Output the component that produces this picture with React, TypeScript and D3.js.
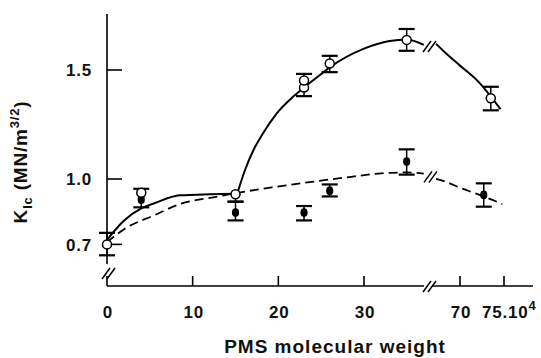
import React from 'react'
import * as d3 from 'd3'

// PMS molecular weight (x 10^4) vs K_Ic
const openX = [0, 4, 15, 23, 23, 26, 35, 73.5]
const openY = [0.7, 0.937, 0.93, 1.42, 1.452, 1.53, 1.638, 1.37]
const openLo = [0.05, 0, 0.034, 0.04, 0, 0.04, 0.05, 0.055]
const openHi = [0.053, 0.018, 0, 0, 0.03, 0.035, 0.05, 0.053]

const filledX = [0, 4, 15, 23, 26, 35, 72.7]
const filledY = [0.7, 0.905, 0.846, 0.846, 0.946, 1.08, 0.927]
const filledLo = [0, 0.035, 0.036, 0.036, 0.026, 0.06, 0.054]
const filledHi = [0, 0, 0.05, 0.03, 0.029, 0.056, 0.053]

// fitted curves, split at the axis break
const solidLowX = [0, 0.5, 2, 4, 5.6, 8.5, 12, 15.2]
const solidLowY = [0.72, 0.745, 0.81, 0.865, 0.89, 0.925, 0.93, 0.932]
const solidUpX = [15.2, 16.1, 17.1, 18.25, 19.8, 21.75, 23, 24.85, 26, 30, 33, 35, 37]
const solidUpY = [0.932, 1.04, 1.133, 1.212, 1.3, 1.378, 1.42, 1.477, 1.512, 1.598, 1.633, 1.64, 1.615]
const solidRightX = [67, 68, 70, 72, 74.6]
const solidRightY = [1.62, 1.585, 1.52, 1.45, 1.32]

const dashLeftX = [0, 2, 5.6, 8.5, 13, 15, 19, 22.6, 28.5, 32, 35, 37]
const dashLeftY = [0.71, 0.77, 0.835, 0.885, 0.92, 0.935, 0.96, 0.98, 1.01, 1.026, 1.03, 1.025]
const dashRightX = [67, 68, 70, 71, 73, 74.8]
const dashRightY = [1.0, 0.99, 0.96, 0.945, 0.915, 0.885]

const xTicks = [10, 20, 30, 70, 75]
const xTickLabels = ['0', '10', '20', '30', '70']
const yTicks = [0.7, 1.0, 1.5]

const W = 541
const H = 358
const font = '"Liberation Sans", Arial, Helvetica, sans-serif'

export default function App() {
  const x = d3.scaleLinear().domain([0, 30, 37.5, 66.5, 70, 75]).range([107, 364, 428, 432, 460, 504])
  const y = d3.scaleLinear().domain([0.5, 1.76]).range([288, 13.3])

  const x0 = x(0)
  const yBase = 286
  const yTop = 14
  const xEnd = 533
  const brkX = x(52)

  const line = d3
    .line<[number, number]>()
    .x((d) => x(d[0]))
    .y((d) => y(d[1]))
    .curve(d3.curveMonotoneX)

  const zip = (a: number[], b: number[]) => a.map((v, i) => [v, b[i]] as [number, number])

  // "//" break mark centred at (cx, cy)
  const breakMark = (cx: number, cy: number, key: string) => (
    <g key={key} stroke="#000" strokeWidth={1.5}>
      <line x1={cx - 7} y1={cy + 6} x2={cx + 1} y2={cy - 5} />
      <line x1={cx - 2} y1={cy + 6} x2={cx + 6} y2={cy - 5} />
    </g>
  )

  const errBar = (xv: number, yv: number, lo: number, hi: number, key: string) => {
    const cx = x(xv)
    const top = y(yv + hi)
    const bot = y(yv - lo)
    return (
      <g key={key} stroke="#000">
        <line x1={cx} x2={cx} y1={top} y2={bot} strokeWidth={1.5} />
        {hi > 0 && <line x1={cx - 8} x2={cx + 8} y1={top} y2={top} strokeWidth={2.2} />}
        {lo > 0 && <line x1={cx - 8} x2={cx + 8} y1={bot} y2={bot} strokeWidth={2.2} />}
      </g>
    )
  }

  return (
    <svg width={W} height={H} style={{ position: 'absolute', left: 0, top: 0, background: '#fff' }} fontFamily={font}>
      {/* axes */}
      <g stroke="#000" strokeWidth={1.6} fill="none">
        <line x1={x0} x2={x0} y1={yTop} y2={yBase} />
        <line x1={x0} x2={xEnd} y1={yBase} y2={yBase} />
        {yTicks.map((t) => (
          <line key={'yt' + t} x1={x0} x2={x0 + 15} y1={y(t)} y2={y(t)} />
        ))}
        {xTicks.map((t) => (
          <line key={'xt' + t} x1={x(t)} x2={x(t)} y1={yBase} y2={yBase - 10} />
        ))}
      </g>
      <rect x={brkX - 6} y={yBase - 2} width={8} height={4} fill="#fff" />
      {breakMark(brkX, yBase, 'bx')}
      <rect x={x0 - 2} y={264} width={4} height={12} fill="#fff" />
      {breakMark(x0 + 2, 273, 'by')}

      {/* tick labels */}
      <g fontSize={17} fontWeight="bold" fill="#111" letterSpacing={0.8}>
        {yTicks.map((t) => (
          <text key={'yl' + t} x={92} y={y(t)} dy="0.36em" textAnchor="end">
            {t.toFixed(1)}
          </text>
        ))}
        {[0, 10, 20, 30, 70].map((t, i) => (
          <text key={'xl' + t} x={x(t) + 1} y={318} textAnchor="middle">
            {xTickLabels[i]}
          </text>
        ))}
        <text x={482} y={318}>
          75.10<tspan fontSize={13} dy={-8}>4</tspan>
        </text>
      </g>

      {/* axis titles */}
      <text x={335} y={353} textAnchor="middle" fontSize={19} fontWeight="bold" fill="#111" letterSpacing={1}>
        PMS molecular weight
      </text>
      <text
        transform="translate(27,162) rotate(-90)"
        textAnchor="middle"
        fontSize={19}
        fontWeight="bold"
        fill="#111"
        letterSpacing={0.8}
      >
        K<tspan fontSize={13} dy={5}>Ic</tspan>
        <tspan dy={-5}> (MN/m</tspan>
        <tspan fontSize={13} dy={-8}>3/2</tspan>
        <tspan dy={8}>)</tspan>
      </text>

      {/* curves */}
      <g fill="none" stroke="#000" strokeWidth={2}>
        <path d={line(zip(solidLowX, solidLowY)) || ''} />
        <path d={line(zip(solidUpX, solidUpY)) || ''} />
        <path d={line(zip(solidRightX, solidRightY)) || ''} />
        <path d={line(zip(dashLeftX, dashLeftY)) || ''} strokeDasharray="9,5" strokeWidth={1.8} />
        <path d={line(zip(dashRightX, dashRightY)) || ''} strokeDasharray="9,5" strokeWidth={1.8} />
      </g>
      {breakMark(brkX, y(1.61), 'bs')}
      {breakMark(brkX + 1, y(1.012), 'bd')}

      {/* error bars */}
      {filledX.map((v, i) => errBar(v, filledY[i], filledLo[i], filledHi[i], 'fe' + i))}
      {openX.map((v, i) => errBar(v, openY[i], openLo[i], openHi[i], 'oe' + i))}

      {/* markers */}
      {filledX.map((v, i) => (
        <ellipse key={'fm' + i} cx={x(v)} cy={y(filledY[i])} rx={3.6} ry={4.4} fill="#000" />
      ))}
      {openX.map((v, i) => (
        <circle key={'om' + i} cx={x(v)} cy={y(openY[i])} r={4.5} fill="#fff" stroke="#000" strokeWidth={1.5} />
      ))}
    </svg>
  )
}
